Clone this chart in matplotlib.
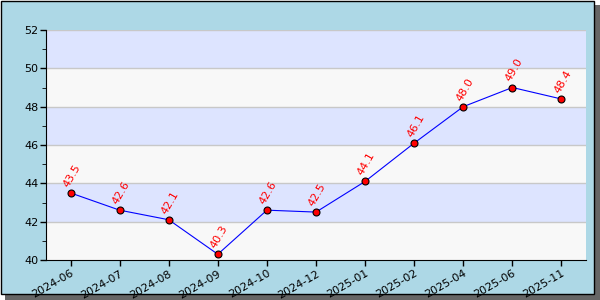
import matplotlib.pyplot as plt
from matplotlib.patches import Rectangle

months = ['2024-06', '2024-07', '2024-08', '2024-09', '2024-10', '2024-12',
          '2025-01', '2025-02', '2025-04', '2025-06', '2025-11']
values = [43.5, 42.6, 42.1, 40.3, 42.6, 42.5, 44.1, 46.1, 48.0, 49.0, 48.4]
yticks = [40, 42, 44, 46, 48, 50, 52]

fig = plt.figure(figsize=(6, 3), dpi=100, facecolor='white')

# frame with drop shadow
fig.patches.append(Rectangle((5/600, 0), 595/600, 295/300, transform=fig.transFigure,
                             facecolor='#666666', edgecolor='none', zorder=-2))
fig.patches.append(Rectangle((0.5/600, 6.5/300), 593/600, 293/300, transform=fig.transFigure,
                             facecolor='#ADD8E6', edgecolor='black', linewidth=1, zorder=-1))

ax = fig.add_axes([46/600, 40/300, 540/600, 230/300])
ax.set_facecolor('#F8F8F8')

# alternating bands
for i, lo in enumerate(yticks[:-1]):
    if i % 2 == 1:
        ax.axhspan(lo, lo + 2, color='#DDE4FF', zorder=0, linewidth=0)
    else:
        ax.axhspan(lo, lo + 2, color='#F8F8F8', zorder=0, linewidth=0)
for y in yticks[1:]:
    ax.axhline(y, color='#C8C8C8', linewidth=1, zorder=1)

x = list(range(len(months)))
ax.plot(x, values, color='blue', linewidth=0.8, zorder=3)
ax.plot(x, values, 'o', markerfacecolor='red', markeredgecolor='black',
        markeredgewidth=0.8, markersize=5, zorder=4)

for xi, v in zip(x, values):
    ax.annotate(f'{v:.1f}', (xi, v), xytext=(1, 3), textcoords='offset points',
                rotation=60, ha='center', va='bottom', color='red', fontsize=8, zorder=5)

ax.set_xlim(-0.5, len(months) - 0.5)
ax.set_ylim(40, 52)
ax.set_yticks(yticks)
ax.set_yticks(range(41, 52, 2), minor=True)
ax.set_xticks(x)
ax.set_xticklabels(months, rotation=30, ha='right', rotation_mode='anchor')

ax.spines['top'].set_visible(False)
ax.spines['right'].set_visible(False)
ax.tick_params(axis='both', labelsize=8, direction='out', width=1)
ax.tick_params(axis='y', which='major', length=4.5, pad=1)
ax.tick_params(axis='y', which='minor', length=3)
ax.tick_params(axis='x', length=4, pad=2)

fig.savefig('out.png', dpi=100, facecolor=fig.get_facecolor())
